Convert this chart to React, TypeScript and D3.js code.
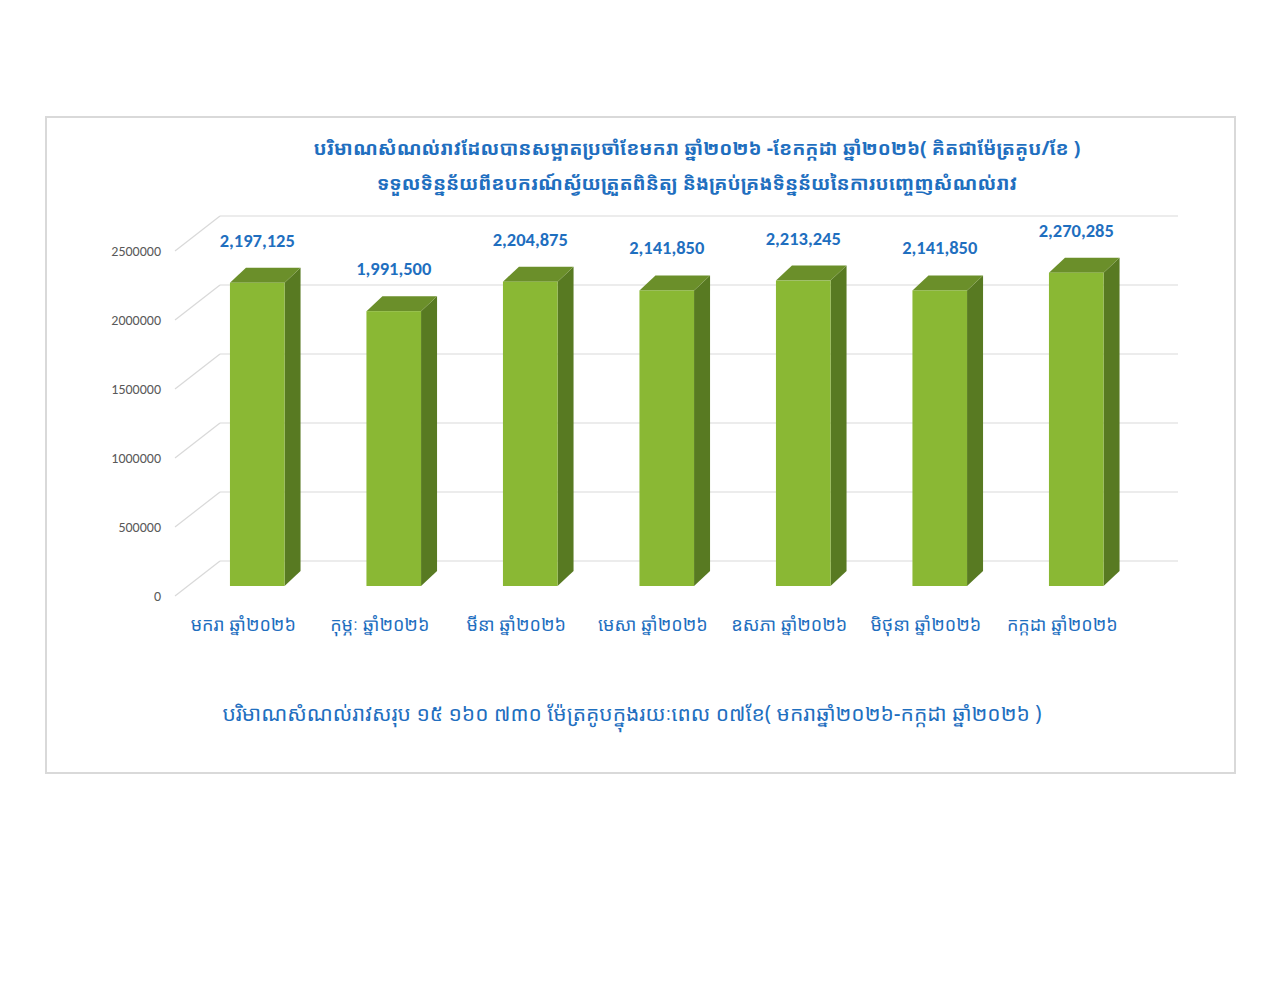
import React from "react";
import * as d3 from "d3";

const months = [
  "មករា ឆ្នាំ២០២៦",
  "កុម្ភៈ ឆ្នាំ២០២៦",
  "មីនា ឆ្នាំ២០២៦",
  "មេសា ឆ្នាំ២០២៦",
  "ឧសភា ឆ្នាំ២០២៦",
  "មិថុនា ឆ្នាំ២០២៦",
  "កក្កដា ឆ្នាំ២០២៦",
];
const volumes = [2197125, 1991500, 2204875, 2141850, 2213245, 2141850, 2270285];
const yTicks = [0, 500000, 1000000, 1500000, 2000000, 2500000];

const titleLines = [
  "បរិមាណសំណល់រាវដែលបានសម្អាតប្រចាំខែមករា ឆ្នាំ២០២៦ -ខែកក្កដា ឆ្នាំ២០២៦( គិតជាម៉ែត្រគូប/ខែ )",
  "ទទួលទិន្នន័យពីឧបករណ៍ស្វ័យត្រួតពិនិត្យ និងគ្រប់គ្រងទិន្នន័យនៃការបញ្ចេញសំណល់រាវ",
];
const footer =
  "បរិមាណសំណល់រាវសរុប ១៥ ១៦០ ៧៣០ ម៉ែត្រគូបក្នុងរយៈពេល ០៧ខែ( មករាឆ្នាំ២០២៦-កក្កដា ឆ្នាំ២០២៦ )";

const khmerFont = "'Noto Sans Khmer', 'Khmer OS', 'Noto Sans', sans-serif";
const blue = "#1f6fbf";

export default function App() {
  const width = 1280;
  const height = 989;

  // bar plane baseline, back wall sits up-right of it, front edge below-left
  const y = d3.scaleLinear().domain([0, 2500000]).range([586, 241]);
  const x = d3
    .scaleBand<string>()
    .domain(months)
    .range([189, 189 + 955.5])
    .paddingInner(0.6)
    .paddingOuter(0.3);

  const backDy = -25;
  const frontDy = 10;
  const wallLeft = 220;
  const wallRight = 1178;
  const sideDx = -45;
  const depthX = 16;
  const depthY = -15;
  const fmt = d3.format(",");

  return (
    <svg width={width} height={height} style={{ display: "block", margin: -8 }}>
      <rect x={0} y={0} width={width} height={height} fill="#fff" />
      <rect x={46} y={117} width={1189} height={656} fill="#fff" stroke="#d9d9d9" strokeWidth={2} />

      {titleLines.map((t, i) => (
        <text
          key={i}
          x={697}
          y={155 + i * 35}
          textAnchor="middle"
          fontFamily={khmerFont}
          fontSize={19.4}
          fontWeight={700}
          fill={blue}
        >
          {t}
        </text>
      ))}

      {/* walls: back gridlines + side diagonals */}
      {yTicks.map((t) => {
        const yb = y(t) + backDy;
        const yf = y(t) + frontDy;
        return (
          <g key={t}>
            <line x1={wallLeft} x2={wallRight} y1={yb} y2={yb} stroke="#d9d9d9" strokeWidth={1.2} />
            <line x1={wallLeft + sideDx} x2={wallLeft} y1={yf} y2={yb} stroke="#d9d9d9" strokeWidth={1.2} />
            <text
              x={161}
              y={yf}
              dy="0.35em"
              textAnchor="end"
              fontFamily="Calibri, Carlito, 'Liberation Sans', sans-serif"
              fontSize={14}
              fill="#595959"
            >
              {t}
            </text>
          </g>
        );
      })}

      {/* bars */}
      {months.map((m, i) => {
        const x0 = x(m)!;
        const x1 = x0 + x.bandwidth();
        const yt = y(volumes[i]);
        const yb = y(0);
        return (
          <g key={m}>
            <path
              d={`M${x1},${yb}L${x1 + depthX},${yb + depthY}L${x1 + depthX},${yt + depthY}L${x1},${yt}Z`}
              fill="#587a22"
            />
            <path
              d={`M${x0},${yt}L${x0 + depthX},${yt + depthY}L${x1 + depthX},${yt + depthY}L${x1},${yt}Z`}
              fill="#6b8f2a"
            />
            <rect x={x0} y={yt} width={x1 - x0} height={yb - yt} fill="#8ab834" />
            <text
              x={(x0 + x1) / 2}
              y={yt - 36}
              textAnchor="middle"
              fontFamily="Calibri, Carlito, 'Open Sans', sans-serif"
              fontSize={18.5}
              fontWeight={700}
              fill={blue}
            >
              {fmt(volumes[i])}
            </text>
            <text
              x={(x0 + x1) / 2 - 14}
              y={631}
              textAnchor="middle"
              fontFamily={khmerFont}
              fontSize={18}
              fill={blue}
            >
              {m}
            </text>
          </g>
        );
      })}

      <text
        x={632}
        y={721}
        textAnchor="middle"
        fontFamily={khmerFont}
        fontSize={21}
        fill={blue}
      >
        {footer}
      </text>
    </svg>
  );
}
